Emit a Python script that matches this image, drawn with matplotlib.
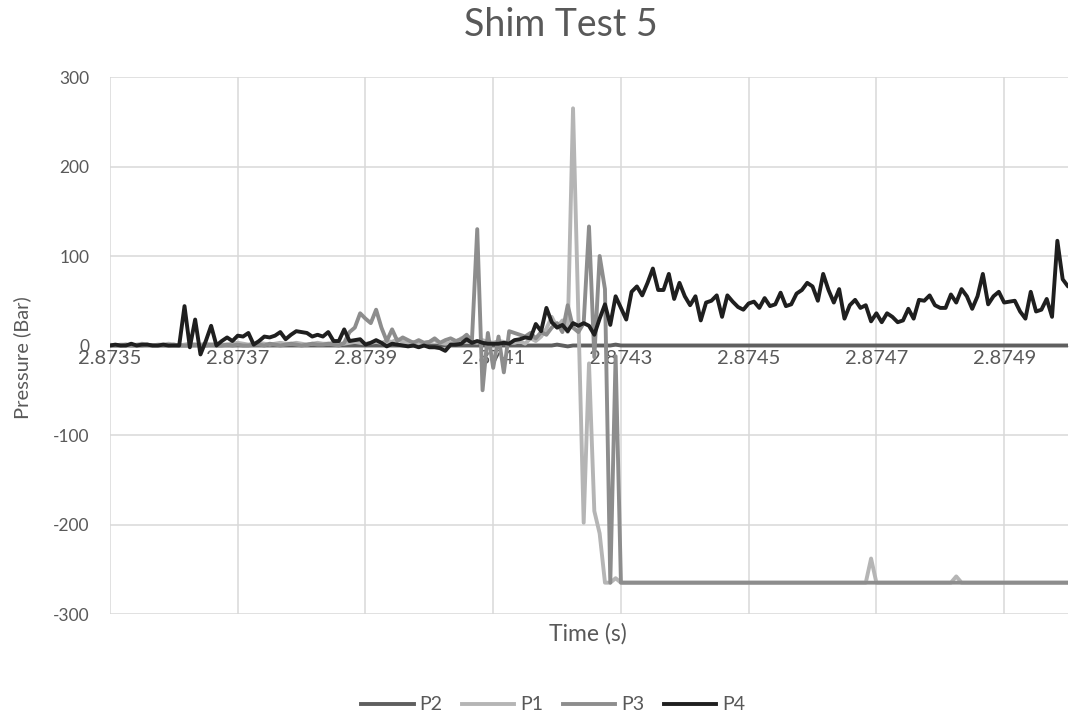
import numpy as np
import matplotlib
matplotlib.use("Agg")
import matplotlib.pyplot as plt
from matplotlib.lines import Line2D

plt.rcParams['font.family'] = ['Lato', 'DejaVu Sans']

# ---------------- data ----------------
T0 = 2.8735          # first sample time (s)
DT = 0.0015 / 180    # sample interval (s)

p4 = [0, 1, 0, 0, 2, 0, 1, 1, 0, 0, 1, 0, 0, 0,
      44, -2, 29, -10, 5, 22, 0, 5, 9, 5, 11, 10, 14, 1, 5, 10,
      9, 11, 15, 7, 12, 16, 15, 14, 10, 12, 10, 15, 5, 5, 18, 5,
      6, 7, 1, 3, 6, 3, -1, 2, 1, 0, -1, 0, -2, 0, -2, -2, -3, -6,
      1, 1, 2, 7, 3, 5, 3, 2, 2, 2, 3, 2, 6, 7, 9, 8, 24, 16, 42,
      26, 20, 23, 16, 25, 22, 25, 22, 12, 30, 46, 23, 55, 42, 29,
      60, 66, 56, 70, 86, 62, 62, 80, 52, 70, 55, 45, 55, 28, 48,
      50, 56, 32, 56, 49, 43, 40, 47, 49, 42, 53, 44, 46, 59, 44,
      46, 58, 62, 70, 66, 50, 80, 62, 48, 63, 30, 45, 51, 42, 45,
      27, 36, 26, 36, 32, 26, 28, 41, 30, 51, 50, 56, 45, 42, 42,
      57, 48, 63, 55, 41, 55, 80, 46, 55, 60, 48, 49, 50, 38, 30,
      60, 38, 40, 52, 32, 117, 74, 66]

p3 = [0, 0, 0, 1, 0, 0, 0, 1, 0, 0, 0, 0, 1, 0, 0, 0, 1, 0, 0, 1,
      0, 0, 1, 0, 1, 0, 0, 1, 1, 0, 2, 1, 0, 1, 2, 1, 0, 1, 2, 1,
      1, 2, 1, 0, 3, 15, 20, 36, 30, 25, 40, 20, 5, 18, 5, 9, 6, 3,
      6, 3, 4, 8, 3, 6, 8, 5, 7, 12, 5, 130, -50, 14, -25, 10, -30,
      16, 14, 12, 10, 14, 8, 15, 12, 20, 25, 15, 45, 20, 15, 25, 133,
      -13, 100, 63, -265, -12] + [-265] * 85

p1 = [1, 0, 1, 1, 0, 1, 2, 1, 0, 1, 1, 2, 1, 0, 1, 2, 1, 1, 2, 1,
      2, 1, 1, 2, 3, 2, 1, 2, 3, 2, 1, 2, 3, 2, 2, 3, 2, 1, 2, 3,
      2, 2, 3, 2, 2, 3, 4, 3, 2, 3, 4, 3, 5, 4, 7, 4, 3, 4, 2, 3,
      4, 6, 3, 2, 3, 4, 8, 5, 4, 3, 6, 4, 3, 5, 4, 3, 3, 5, 2, 8,
      5, 10, 19, 32, 20, 28, 15, 265, 35, -198, -20, -185, -210,
      -265, -265, -260] + [-265] * 47 + [-238] + [-265] * 15 + [-258] + [-265] * 21

p2 = [0] * 84 + [1, 0, -1] + [0] * 8 + [1] + [0] * 85

series_names = ['P2', 'P1', 'P3', 'P4']
series_values = [p2, p1, p3, p4]
series_colors = ['#5f5f5f', '#b5b5b5', '#8d8d8d', '#1f1f1f']

x_ticks = [2.8735, 2.8737, 2.8739, 2.8741, 2.8743, 2.8745, 2.8747, 2.8749]
x_tick_labels = ['2.8735', '2.8737', '2.8739', '2.8741', '2.8743',
                 '2.8745', '2.8747', '2.8749']
y_ticks = [-300, -200, -100, 0, 100, 200, 300]

# ---------------- figure ----------------
W, H = 1070, 719
fig = plt.figure(figsize=(W / 100, H / 100), dpi=100)
ax = fig.add_axes([110 / W, 1 - 614 / H, 958 / W, 537 / H])

txt = '#595959'
grid_c = '#d9d9d9'

for name, vals, col in zip(series_names, series_values, series_colors):
    t = T0 + DT * np.arange(len(vals))
    ax.plot(t, vals, color=col, lw=2.8, solid_joinstyle='round',
            solid_capstyle='round', label=name, zorder=3)

ax.set_xlim(2.8735, 2.8750)
ax.set_ylim(-300, 300)
ax.set_xticks(x_ticks)
ax.set_xticklabels(x_tick_labels)
ax.set_yticks(y_ticks)
ax.set_yticklabels([str(v) for v in y_ticks])

ax.set_axisbelow(True)
ax.grid(True, color=grid_c, lw=1.1)
for s in ['left', 'right', 'top']:
    ax.spines[s].set_visible(False)
ax.spines['bottom'].set_position(('data', 0))
ax.spines['bottom'].set_color(grid_c)
ax.tick_params(axis='both', length=0, colors=txt)
ax.tick_params(axis='x', labelsize=14.5, pad=3)
ax.tick_params(axis='y', labelsize=12.5, pad=15)

fig.text(561 / W, 1 - 25 / H, 'Shim Test 5', ha='center', va='center',
         fontsize=27, color=txt)
fig.text(588 / W, 1 - 634 / H, 'Time (s)', ha='center', va='center',
         fontsize=16.5, color=txt)
fig.text(22 / W, 1 - 358 / H, 'Pressure (Bar)', ha='center', va='center',
         rotation=90, fontsize=14.5, color=txt)

handles = [Line2D([0], [0], color=c, lw=2.8) for c in series_colors]
fig.legend(handles, series_names, loc='center', bbox_to_anchor=(553 / W, 1 - 705 / H),
           ncol=4, frameon=False, fontsize=14, handlelength=2.7,
           handletextpad=0.3, columnspacing=1.0, labelcolor=txt)

fig.savefig('out.png', dpi=100)
